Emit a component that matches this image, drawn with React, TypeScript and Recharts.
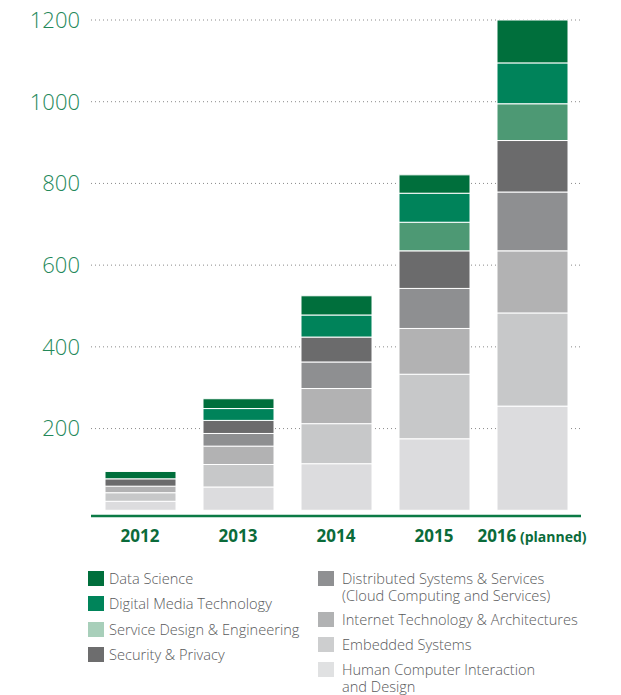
import React from 'react';
import { BarChart, Bar, XAxis, YAxis, CartesianGrid } from 'recharts';

const years = ['2012', '2013', '2014', '2015', '2016'];
const hci = [22, 57, 114, 175, 255];
const embedded = [21, 55, 98, 158, 228];
const internet = [16, 45, 86, 112, 152];
const distributed = [0, 31, 65, 98, 144];
const security = [18, 32, 61, 92, 126];
const service = [0, 0, 0, 70, 90];
const digital = [0, 29, 54, 71, 100];
const dataScience = [18, 24, 47, 45, 105];
const yTicks = [200, 400, 600, 800, 1000, 1200];

const series = [
  { key: 'hci', name: 'Human Computer Interaction and Design', values: hci, color: '#dcdcde' },
  { key: 'embedded', name: 'Embedded Systems', values: embedded, color: '#c7c8c9' },
  { key: 'internet', name: 'Internet Technology & Architectures', values: internet, color: '#b2b2b3' },
  { key: 'distributed', name: 'Distributed Systems & Services (Cloud Computing and Services)', values: distributed, color: '#8e8f91' },
  { key: 'security', name: 'Security & Privacy', values: security, color: '#6b6b6c' },
  { key: 'service', name: 'Service Design & Engineering', values: service, color: '#4d9974' },
  { key: 'digital', name: 'Digital Media Technology', values: digital, color: '#00835a' },
  { key: 'dataScience', name: 'Data Science', values: dataScience, color: '#006f3c' },
];

const data = years.map((y, i) => {
  const row: any = { year: y };
  series.forEach((s) => (row[s.key] = s.values[i]));
  return row;
});

const FONT = '"Open Sans", "Noto Sans", sans-serif';

const XTick = (props: any) => {
  const { x, y, payload } = props;
  const v = payload.value;
  return (
    <text x={x} y={y + 26} textAnchor="middle" fill="#0b6b3a" fontFamily={FONT} fontWeight={700} fontSize={17}>
      {v}
      {v === '2016' ? <tspan fontSize={14}> (planned)</tspan> : null}
    </text>
  );
};

type LegendItem = { lines: string[]; color: string; x: number; tx: number; cy: number };
const legendItems: LegendItem[] = [
  { lines: ['Data Science'], color: '#006f3c', x: 88, tx: 109, cy: 579 },
  { lines: ['Digital Media Technology'], color: '#00845a', x: 88, tx: 109, cy: 604 },
  { lines: ['Service Design & Engineering'], color: '#a8cfba', x: 88, tx: 109, cy: 630 },
  { lines: ['Security & Privacy'], color: '#6d6d6e', x: 88, tx: 109, cy: 655 },
  { lines: ['Distributed Systems & Services', '(Cloud Computing and Services)'], color: '#8f9092', x: 318, tx: 342, cy: 579 },
  { lines: ['Internet Technology & Architectures'], color: '#b1b2b3', x: 318, tx: 342, cy: 620 },
  { lines: ['Embedded Systems'], color: '#cdcecf', x: 318, tx: 342, cy: 645 },
  { lines: ['Human Computer Interaction', 'and Design'], color: '#e0e1e2', x: 318, tx: 342, cy: 670 },
];

export default function App() {
  return (
    <div style={{ position: 'absolute', left: 0, top: 0, width: 621, height: 695, background: '#fff', fontFamily: FONT }}>
      <BarChart
        width={621}
        height={560}
        data={data}
        margin={{ top: 20, right: 40, left: 0, bottom: 0 }}
        barSize={71}
      >
        <CartesianGrid horizontal vertical={false} stroke="#8a8a8a" strokeDasharray="1 3" />
        <XAxis
          dataKey="year"
          axisLine={{ stroke: '#0b7a45', strokeWidth: 2.5 }}
          tickLine={false}
          tickSize={0}
          tickMargin={0}
          height={44}
          tick={<XTick />}
          interval={0}
        />
        <YAxis
          type="number"
          domain={[-14, 1200]}
          ticks={yTicks}
          width={91}
          axisLine={false}
          tickLine={false}
          tickSize={0}
          tickMargin={11}
          tick={{ fill: '#24885a', fontSize: 22, fontFamily: FONT, fontWeight: 300 }}
        />
        {series.map((s) => (
          <Bar
            key={s.key}
            dataKey={s.key}
            name={s.name}
            stackId="a"
            fill={s.color}
            stroke="#ffffff"
            strokeWidth={1}
            isAnimationActive={false}
          />
        ))}
      </BarChart>
      {legendItems.map((it, i) => (
        <div key={i}>
          <div
            style={{ position: 'absolute', left: it.x, top: it.cy - 8, width: 16, height: 15, background: it.color }}
          />
          {it.lines.map((l, j) => (
            <div
              key={j}
              style={{
                position: 'absolute',
                left: it.tx,
                top: it.cy - 9 + j * 17,
                fontSize: 14.6,
                lineHeight: '17px',
                height: 17,
                color: '#58595b',
                fontWeight: 300,
                whiteSpace: 'nowrap',
              }}
            >
              {l}
            </div>
          ))}
        </div>
      ))}
    </div>
  );
}
